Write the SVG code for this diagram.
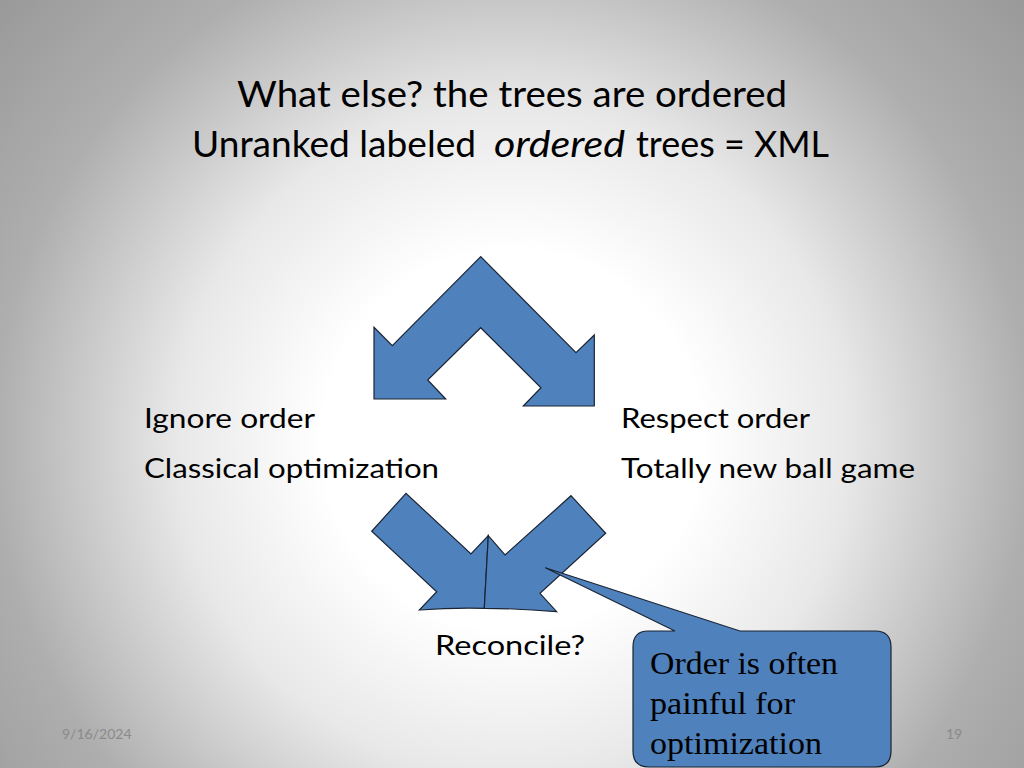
<svg xmlns="http://www.w3.org/2000/svg" width="1024" height="768" viewBox="0 0 1024 768">
  <defs>
    <radialGradient id="bg" gradientUnits="userSpaceOnUse" cx="512" cy="440" r="700">
      <stop offset="0" stop-color="#ffffff"/>
      <stop offset="0.27" stop-color="#ffffff"/>
      <stop offset="0.48" stop-color="#e8e8e8"/>
      <stop offset="0.74" stop-color="#aeaeae"/>
      <stop offset="1" stop-color="#969696"/>
    </radialGradient>
    <style>
      .shape { fill: #4f81bd; stroke: #1a2433; stroke-width: 1.2; stroke-linejoin: miter; }
      .sans { font-family: Lato, "Open Sans", "Liberation Sans", sans-serif; fill: #000; }
      .title { font-size: 37px; }
      .body { font-size: 26px; }
      .serif { font-family: "Liberation Serif", "DejaVu Serif", serif; font-size: 32px; fill: #000; }
      .foot { font-family: Lato, "Liberation Sans", sans-serif; font-size: 14px; fill: #8a8a8a; }
    </style>
  </defs>

  <rect x="0" y="0" width="1024" height="768" fill="url(#bg)"/>

  <g id="title">
    <text class="sans title" x="237" y="107" textLength="550" lengthAdjust="spacingAndGlyphs">What else? the trees are ordered</text>
    <text class="sans title" x="192" y="157" textLength="284" lengthAdjust="spacingAndGlyphs">Unranked labeled</text>
    <text class="sans title" x="494" y="157" font-style="italic" textLength="131" lengthAdjust="spacingAndGlyphs">ordered</text>
    <text class="sans title" x="636" y="157" textLength="193" lengthAdjust="spacingAndGlyphs">trees = XML</text>
  </g>

  <g id="connectors">
    <g id="split-arrow">
      <polygon class="shape" points="480.7,256.7 392.3,345.7 374,327.3 374,399 445.7,399 427.7,380 480.7,327.7 541,387.7 523.3,406 594.3,406 594.3,335 576,352.7"/>
    </g>
    <g id="merge-arrow">
      <path class="shape" d="M406,493.3 L371.7,531.3 L436.7,591.7 L419.3,610 Q452,607.5 484.3,608.3 L488.3,535.7 L471,554 Z"/>
      <path class="shape" d="M571,495.7 L605.7,533.3 L540,593.3 L556.7,611.7 Q520,608.5 484.3,608.3 L488.3,535.7 L505,555 Z"/>
    </g>
  </g>

  <g id="node-ignore">
    <text class="sans body" x="144" y="428" textLength="171" lengthAdjust="spacingAndGlyphs">Ignore order</text>
    <text class="sans body" x="144" y="478" textLength="295" lengthAdjust="spacingAndGlyphs">Classical optimization</text>
  </g>

  <g id="node-respect">
    <text class="sans body" x="621" y="428" textLength="189" lengthAdjust="spacingAndGlyphs">Respect order</text>
    <text class="sans body" x="621" y="478" textLength="294" lengthAdjust="spacingAndGlyphs">Totally new ball game</text>
  </g>

  <g id="node-reconcile">
    <text class="sans body" x="435" y="655" textLength="150" lengthAdjust="spacingAndGlyphs">Reconcile?</text>
  </g>

  <g id="node-callout">
    <path class="shape" d="M648,631 L675,631 L545.3,567.7 L740,631 L875,631 Q891,631 891,647 L891,751 Q891,767 875,767 L649,767 Q633,767 633,751 L633,647 Q633,631 648,631 Z"/>
    <text class="serif" x="650" y="674" textLength="188" lengthAdjust="spacingAndGlyphs">Order is often</text>
    <text class="serif" x="650" y="714" textLength="145" lengthAdjust="spacingAndGlyphs">painful for</text>
    <text class="serif" x="650" y="754" textLength="172" lengthAdjust="spacingAndGlyphs">optimization</text>
  </g>

  <g id="footer">
    <text class="foot" x="62" y="739">9/16/2024</text>
    <text class="foot" x="946" y="739">19</text>
  </g>
</svg>
